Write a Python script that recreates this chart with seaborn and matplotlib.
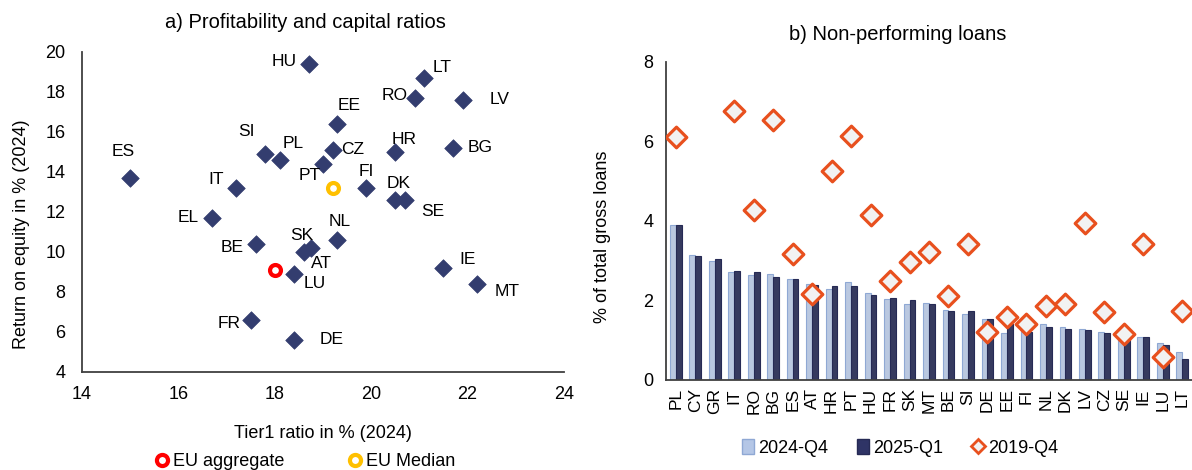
import numpy as np
import pandas as pd
import matplotlib
matplotlib.use("Agg")
import matplotlib.pyplot as plt
from matplotlib.lines import Line2D
from matplotlib.patches import Patch
import seaborn as sns

# a) profitability vs capital
scatter_countries = ["HU", "LT", "RO", "LV", "EE", "SI", "PL", "CZ", "PT", "HR", "BG", "ES", "IT",
                     "FI", "DK", "SE", "EL", "BE", "SK", "AT", "NL", "LU", "IE", "MT", "FR", "DE"]
tier1 = [18.7, 21.1, 20.9, 21.9, 19.3, 17.8, 18.1, 19.2, 19.0, 20.5, 21.7, 15.0, 17.2,
         19.9, 20.5, 20.7, 16.7, 17.6, 18.75, 18.6, 19.3, 18.4, 21.5, 22.2, 17.5, 18.4]
roe = [19.4, 18.7, 17.7, 17.6, 16.4, 14.9, 14.6, 15.1, 14.4, 15.0, 15.2, 13.7, 13.2,
       13.2, 12.6, 12.6, 11.7, 10.4, 10.2, 10.0, 10.6, 8.9, 9.2, 8.4, 6.6, 5.6]
eu_aggregate = (18.0, 9.1)
eu_median = (19.2, 13.2)

# label offsets in pixels (dx, dy)
label_offsets = {
    "HU": (-24, 3), "LT": (18, 10), "RO": (-20, 2), "LV": (37, 0), "EE": (12, 18),
    "SI": (-19, 23), "PL": (14, 16), "CZ": (20, 0), "PT": (-13, -11), "HR": (9, 13),
    "BG": (27, 0), "ES": (-7, 26), "IT": (-20, 8), "FI": (0, 16), "DK": (3, 17),
    "SE": (28, -11), "EL": (-24, 0), "BE": (-23, -3), "SK": (-9, 13), "AT": (18, -11),
    "NL": (2, 18), "LU": (21, -10), "IE": (24, 8), "MT": (30, -8), "FR": (-22, -3),
    "DE": (38, 0),
}

# b) non-performing loans
npl_countries = ["PL", "CY", "GR", "IT", "RO", "BG", "ES", "AT", "HR", "PT", "HU", "FR", "SK", "MT",
                 "BE", "SI", "DE", "EE", "FI", "NL", "DK", "LV", "CZ", "SE", "IE", "LU", "LT"]
npl_2024q4 = [3.90, 3.15, 3.00, 2.72, 2.64, 2.66, 2.55, 2.41, 2.28, 2.46, 2.20, 2.04, 1.91, 1.93,
              1.76, 1.66, 1.54, 1.19, 1.28, 1.41, 1.34, 1.29, 1.20, 1.10, 1.08, 0.93, 0.70]
npl_2025q1 = [3.90, 3.12, 3.04, 2.73, 2.71, 2.58, 2.54, 2.39, 2.37, 2.37, 2.14, 2.06, 2.01, 1.90,
              1.74, 1.73, 1.54, 1.40, 1.22, 1.33, 1.28, 1.26, 1.17, 1.06, 1.08, 0.88, 0.52]
npl_2019q4 = [6.11, np.nan, np.nan, 6.76, 4.27, 6.53, 3.16, 2.17, 5.26, 6.15, 4.16, 2.50, 2.97, 3.21,
              2.12, 3.41, 1.22, 1.58, 1.40, 1.85, 1.92, 3.94, 1.71, 1.15, 3.41, 0.57, 1.73]

navy = "#333d6f"
light = "#b4c6e6"
light_edge = "#8fa8d4"
dark = "#2f3466"
orange = "#e8501e"

sns.set_theme(style="white")
plt.rcParams["font.family"] = ["Liberation Sans", "DejaVu Sans"]
plt.rcParams["text.color"] = "black"
plt.rcParams["axes.labelcolor"] = "black"
plt.rcParams["xtick.color"] = "black"
plt.rcParams["ytick.color"] = "black"

W, H = 1192, 470
fig = plt.figure(figsize=(W / 100, H / 100), dpi=100)

def frac(x0, y0, x1, y1):
    return [x0 / W, 1 - y1 / H, (x1 - x0) / W, (y1 - y0) / H]

ax1 = fig.add_axes(frac(82, 52, 564, 372))
ax2 = fig.add_axes(frac(666, 62, 1192, 380))

# ---- left panel
sns.scatterplot(x=tier1, y=roe, marker="D", s=80, color=navy, edgecolor=navy,
                linewidth=0.5, ax=ax1, zorder=3)
sns.scatterplot(x=[eu_aggregate[0]], y=[eu_aggregate[1]], marker="o", s=62,
                facecolor="white", edgecolor="#ff0000", linewidth=3, ax=ax1, zorder=4)
sns.scatterplot(x=[eu_median[0]], y=[eu_median[1]], marker="o", s=62,
                facecolor="white", edgecolor="#ffc000", linewidth=3, ax=ax1, zorder=4)

for c, xv, yv in zip(scatter_countries, tier1, roe):
    dx, dy = label_offsets[c]
    ax1.annotate(c, (xv, yv), xytext=(dx, dy), textcoords="offset pixels",
                 ha="center", va="center", fontsize=12.5, zorder=5)

ax1.set_xlim(14, 24)
ax1.set_ylim(4, 20)
ax1.set_xticks(range(14, 25, 2))
ax1.set_yticks(range(4, 21, 2))
ax1.tick_params(axis="both", length=0, labelsize=13)
ax1.tick_params(axis="y", pad=12)
ax1.tick_params(axis="x", pad=10)
ax1.set_xlabel("Tier1 ratio in % (2024)", fontsize=13)
ax1.set_ylabel("Return on equity in % (2024)", fontsize=13)
ax1.xaxis.set_label_coords(0.5, -0.165)
ax1.yaxis.set_label_coords(-0.108, 0.43)
for s in ["top", "right"]:
    ax1.spines[s].set_visible(False)
for s in ["left", "bottom"]:
    ax1.spines[s].set_color("#404040")
    ax1.spines[s].set_linewidth(1.3)

fig.text(305 / W, 1 - 23 / H, "a) Profitability and capital ratios", ha="center",
         va="center", fontsize=14.5)

left_handles = [
    Line2D([], [], marker="o", linestyle="none", markersize=8, markerfacecolor="white",
           markeredgecolor="#ff0000", markeredgewidth=3),
    Line2D([], [], marker="o", linestyle="none", markersize=8, markerfacecolor="white",
           markeredgecolor="#ffc000", markeredgewidth=3),
]
fig.legend(left_handles, ["EU aggregate", "EU Median"], loc="center",
           bbox_to_anchor=(305 / W, 1 - 462 / H), ncol=2, frameon=False, fontsize=13,
           handlelength=0.8, handletextpad=0.2, columnspacing=3.5)

# ---- right panel
npl_long = pd.DataFrame({
    "country": npl_countries * 2,
    "value": npl_2024q4 + npl_2025q1,
    "period": ["2024-Q4"] * len(npl_countries) + ["2025-Q1"] * len(npl_countries),
})
sns.barplot(data=npl_long, x="country", y="value", hue="period", order=npl_countries,
            hue_order=["2024-Q4", "2025-Q1"], palette=[light, dark], width=0.6, gap=0,
            legend=False, ax=ax2, zorder=2)
for cont, ec in zip(ax2.containers, [light_edge, "#262a55"]):
    for p in cont:
        p.set_edgecolor(ec)
        p.set_linewidth(0.8)

sns.stripplot(x=npl_countries, y=npl_2019q4, order=npl_countries, jitter=False, marker="D",
              size=10.5, color="#f2f2f2", edgecolor=orange, linewidth=2.3, ax=ax2, zorder=4)

ax2.set_xlim(-0.5, len(npl_countries) - 0.5)
ax2.set_ylim(0, 8)
ax2.set_yticks([0, 2, 4, 6, 8])
ax2.set_xticks(range(len(npl_countries)))
ax2.set_xticklabels(npl_countries, rotation=90, fontsize=12.5)
ax2.tick_params(axis="both", length=0)
ax2.tick_params(axis="y", labelsize=13, pad=9)
ax2.tick_params(axis="x", pad=6)
ax2.set_xlabel("")
ax2.set_ylabel("% of total gross loans", fontsize=13)
ax2.yaxis.set_label_coords(-0.105, 0.45)
for s in ["top", "right"]:
    ax2.spines[s].set_visible(False)
for s in ["left", "bottom"]:
    ax2.spines[s].set_color("#404040")
    ax2.spines[s].set_linewidth(1.3)

fig.text(898 / W, 1 - 34 / H, "b) Non-performing loans", ha="center", va="center",
         fontsize=14.5)

right_handles = [
    Patch(facecolor=light, edgecolor=light_edge),
    Patch(facecolor=dark, edgecolor="#262a55"),
    Line2D([], [], marker="D", linestyle="none", markersize=7, markerfacecolor="#f2f2f2",
           markeredgecolor=orange, markeredgewidth=2),
]
fig.legend(right_handles, ["2024-Q4", "2025-Q1", "2019-Q4"], loc="center",
           bbox_to_anchor=(900 / W, 1 - 448 / H), ncol=3, frameon=False, fontsize=13,
           handlelength=0.7, handleheight=0.9, handletextpad=0.2, columnspacing=1.6)

fig.savefig("out.png", dpi=100)
